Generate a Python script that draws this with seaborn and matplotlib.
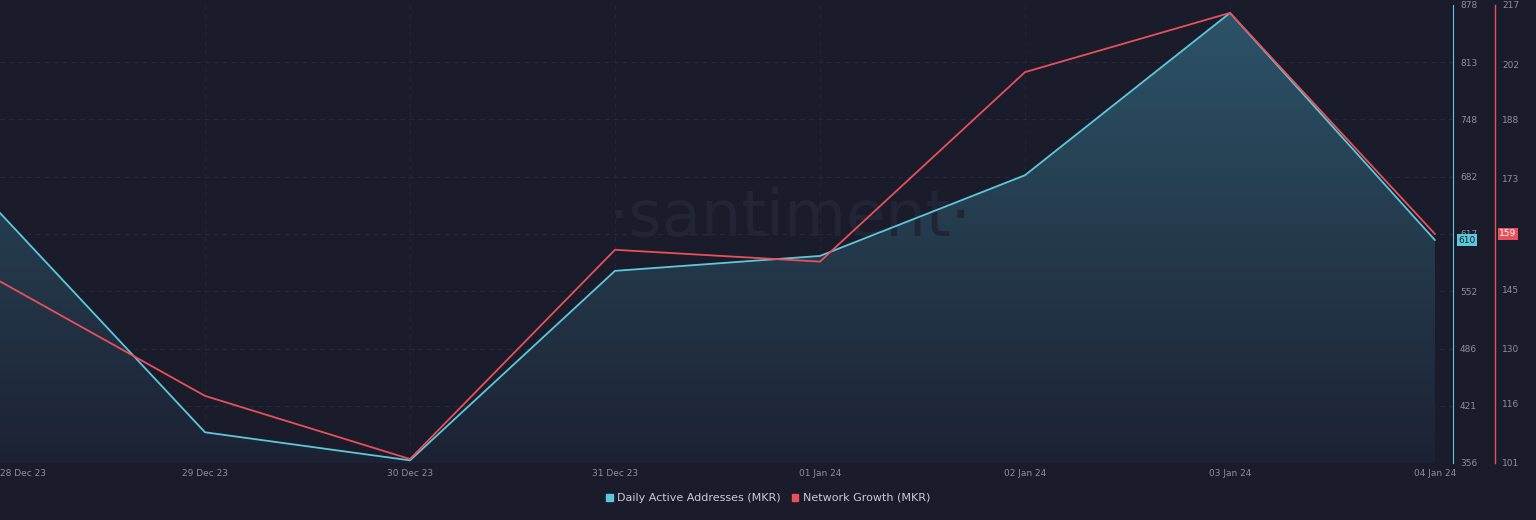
import numpy as np
import pandas as pd
import matplotlib
matplotlib.use('Agg')
import matplotlib.pyplot as plt
import seaborn as sns

dates = ['28 Dec 23', '29 Dec 23', '30 Dec 23', '31 Dec 23', '01 Jan 24', '02 Jan 24', '03 Jan 24', '04 Jan 24']
active_addresses = [641, 391, 359, 575, 592, 684, 869, 610]
network_growth = [147, 118, 102, 155, 152, 200, 215, 159]
left_ticks = [356, 421, 486, 552, 617, 682, 748, 813, 878]
right_ticks = [101, 116, 130, 145, 159, 173, 188, 202, 217]

BG = '#1a1c2b'
CYAN = '#5ec8db'
RED = '#e8505b'
TXT = '#8a90a0'

sns.set_style('dark')
plt.rcParams['font.family'] = ['DejaVu Sans']

df = pd.DataFrame({'day': np.arange(len(dates)), 'daa': active_addresses, 'ng': network_growth})

W, H = 1536, 520
fig = plt.figure(figsize=(W / 100, H / 100), dpi=100, facecolor=BG)
ax = fig.add_axes([0, 1 - 463 / H, 1453 / W, 458 / H], facecolor=BG)
ax2 = ax.twinx()

xmax = 7 * 1453 / 1435
ax.set_xlim(0, xmax)

# gradient fill under active addresses
grad = np.linspace(0, 1, 256).reshape(-1, 1)
cmap = matplotlib.colors.LinearSegmentedColormap.from_list('g', ['#2d5468', '#1c2233'])
im = ax.imshow(grad, aspect='auto', cmap=cmap, extent=[0, 7, left_ticks[0], left_ticks[-1]],
               origin='upper', zorder=1)
poly = ax.fill_between(df['day'], df['daa'], left_ticks[0], color='none')
clip = matplotlib.patches.PathPatch(poly.get_paths()[0], transform=ax.transData, facecolor='none', edgecolor='none')
ax.add_patch(clip)
im.set_clip_path(clip)

sns.lineplot(data=df, x='day', y='daa', ax=ax, color=CYAN, linewidth=1.3, zorder=3)
sns.lineplot(data=df, x='day', y='ng', ax=ax2, color=RED, linewidth=1.3, zorder=3)
ax.set_xlim(0, xmax)
ax.set_ylim(left_ticks[0], left_ticks[-1])
ax2.set_ylim(right_ticks[0], right_ticks[-1])

for y in left_ticks[1:-1]:
    ax.axhline(y, color='#272a3a', linestyle=(0, (4, 4)), linewidth=0.8, zorder=0)
for x in range(1, 7):
    ax.axvline(x, color='#222535', linestyle=(0, (4, 4)), linewidth=0.8, zorder=0)

ax.text(3.85, 635, '\u00b7santiment\u00b7', fontsize=46, color='#222535', ha='center', va='center', zorder=2)

ax.set_xticks(range(len(dates)))
ax.set_xticklabels(dates)
ax.tick_params(axis='x', length=0, pad=4, labelsize=6.5, labelcolor=TXT)
ax.get_xticklabels()[0].set_horizontalalignment('left')
ax.set_xlabel('')
ax.set_ylabel('')
ax2.set_ylabel('')

ax.yaxis.tick_right()
ax.set_yticks(left_ticks)
ax.set_yticklabels([str(v) for v in left_ticks])
ax.tick_params(axis='y', length=0, pad=5, labelsize=6.5, labelcolor=TXT)
ax2.set_yticks(right_ticks)
ax2.set_yticklabels([str(v) for v in right_ticks])
ax2.tick_params(axis='y', length=0, pad=5, labelsize=6.5, labelcolor=TXT)
ax2.spines['right'].set_position(('axes', 1495 / 1453))

for s in ['top', 'left', 'bottom']:
    ax.spines[s].set_visible(False)
    ax2.spines[s].set_visible(False)
ax.spines['right'].set_visible(True)
ax.spines['right'].set_color(CYAN)
ax2.spines['right'].set_color(RED)
ax2.spines['right'].set_linewidth(1)

ax.text(1.0035, active_addresses[-1], str(active_addresses[-1]), transform=ax.get_yaxis_transform(),
        fontsize=6.5, color='#10202a', va='center', ha='left', zorder=5,
        bbox=dict(boxstyle='square,pad=0.15', fc=CYAN, ec='none'))
ax2.text(1495 / 1453 + 0.003, network_growth[-1], str(network_growth[-1]), transform=ax2.get_yaxis_transform(),
         fontsize=6.5, color='white', va='center', ha='left', zorder=5,
         bbox=dict(boxstyle='square,pad=0.15', fc=RED, ec='none'))

handles = [matplotlib.patches.Patch(color=CYAN, label='Daily Active Addresses (MKR)'),
           matplotlib.patches.Patch(color=RED, label='Network Growth (MKR)')]
fig.legend(handles=handles, loc='center', bbox_to_anchor=(0.5, 1 - 498 / H), ncol=2, frameon=False,
           fontsize=8, labelcolor='#c8ccd6', handlelength=0.6, handleheight=0.6, columnspacing=1.0, handletextpad=0.4)

fig.savefig('out.png', dpi=100, facecolor=BG)
